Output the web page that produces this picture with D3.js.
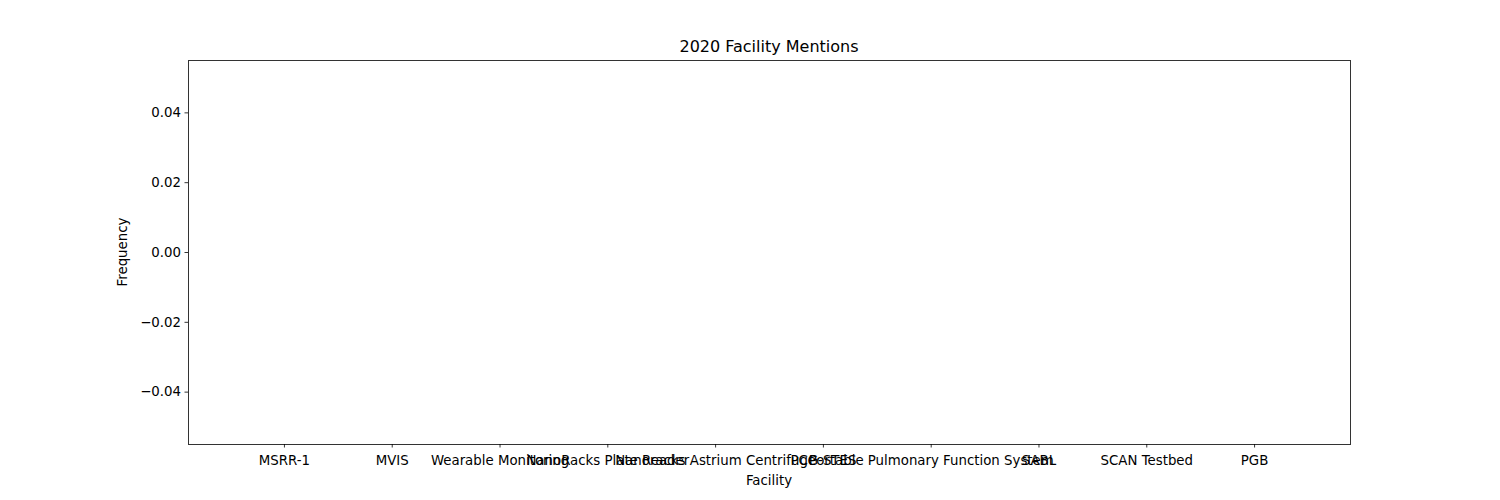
<!DOCTYPE html>
<html><head><meta charset="utf-8">
<script src="https://cdn.jsdelivr.net/npm/d3@7"></script>
<style>body{margin:0;background:#fff;} text{font-family:"DejaVu Sans",sans-serif;}</style>
</head><body>
<svg id="c" width="1500" height="500"></svg>
<script>
const categories = ["MSRR-1","MVIS","Wearable Monitoring","NanoRacks Plate Reader","Nanoracks Astrium Centrifuge","PCG-STES","Portable Pulmonary Function System","SABL","SCAN Testbed","PGB"];
const values = [0,0,0,0,0,0,0,0,0,0];
const yTicks = [-0.04,-0.02,0.00,0.02,0.04];

const svg = d3.select("#c");
const L=188, R=1350, T=60, B=444;
const x = d3.scaleLinear().domain([-0.89, categories.length - 1 + 0.89]).range([L, R]);
const y = d3.scaleLinear().domain([-0.055, 0.055]).range([B, T]);

svg.append("g").selectAll("rect").data(values).join("rect")
  .attr("x",(d,i)=>x(i-0.4)).attr("width",x(0.8)-x(0))
  .attr("y",d=>y(Math.max(d,0))).attr("height",d=>Math.abs(y(d)-y(0)))
  .attr("fill","#1f77b4");

const fmt = d => (d<0?"\u2212":"") + Math.abs(d).toFixed(2);
const ya = svg.append("g").attr("transform",`translate(${L},0)`)
  .call(d3.axisLeft(y).tickValues(yTicks).tickFormat(fmt).tickSizeOuter(0).tickSize(3.5).tickPadding(3.5));
ya.select(".domain").remove();
ya.selectAll("text").attr("font-size","13.33px").attr("font-family","DejaVu Sans").attr("fill","#000");
ya.selectAll("line").attr("stroke","#000").attr("stroke-width",0.8);

const xa = svg.append("g").attr("transform",`translate(0,${B})`)
  .call(d3.axisBottom(x).tickValues(d3.range(categories.length)).tickFormat(i=>categories[i]).tickSizeOuter(0).tickSize(3.5).tickPadding(8.5));
xa.select(".domain").remove();
xa.selectAll("text").attr("font-size","13.33px").attr("font-family","DejaVu Sans").attr("fill","#000");
xa.selectAll("line").attr("stroke","#000").attr("stroke-width",0.8);

svg.append("rect").attr("x",L+0.5).attr("y",T+0.5).attr("width",R-L).attr("height",B-T)
  .attr("fill","none").attr("stroke","#000").attr("stroke-width",0.8).attr("shape-rendering","crispEdges");

svg.append("text").attr("x",(L+R)/2).attr("y",T-8).attr("text-anchor","middle")
  .attr("font-size","16px").text("2020 Facility Mentions");
svg.append("text").attr("x",(L+R)/2).attr("y",485).attr("text-anchor","middle")
  .attr("font-size","13.33px").text("Facility");
svg.append("text").attr("transform",`translate(127,${(T+B)/2}) rotate(-90)`).attr("text-anchor","middle")
  .attr("font-size","13.33px").text("Frequency");
</script>
</body></html>
